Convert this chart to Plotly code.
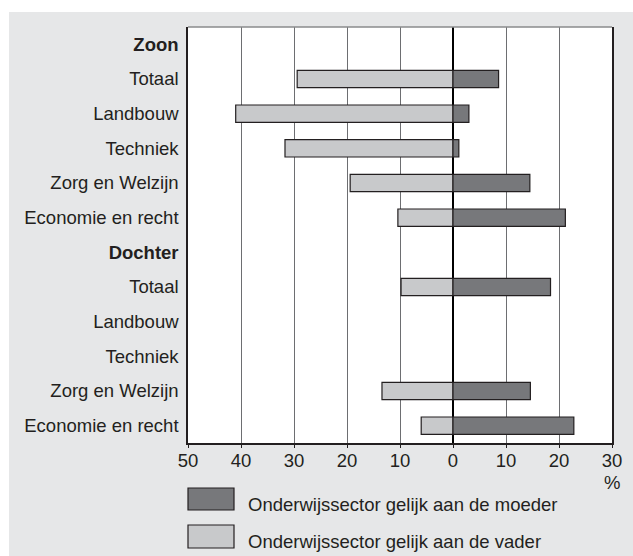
import plotly.graph_objects as go

labels = ["<b>Zoon</b>", "Totaal", "Landbouw", "Techniek", "Zorg en Welzijn", "Economie en recht",
          "<b>Dochter</b>", "Totaal", "Landbouw", "Techniek", "Zorg en Welzijn", "Economie en recht"]
moeder = [None, 8.6, 3.0, 1.1, 14.5, 21.2, None, 18.4, None, None, 14.6, 22.8]
vader = [None, 29.4, 41.0, 31.7, 19.4, 10.4, None, 9.8, None, None, 13.4, 6.0]
tick_vals = [-50, -40, -30, -20, -10, 0, 10, 20, 30]
tick_text = ["50", "40", "30", "20", "10", "0", "10", "20", "30"]
series_names = ["Onderwijssector gelijk aan de moeder", "Onderwijssector gelijk aan de vader"]

DARK = "#77787b"
LIGHT = "#c8c9cb"
EDGE = "#231f20"
PANEL = "#e6e7e8"
TEXT = "#231f20"
FONT = "Liberation Sans, Arial, Helvetica, sans-serif"
FS = 18.5

ypos = list(range(len(labels)))

fig = go.Figure()
fig.add_trace(go.Bar(
    y=ypos, x=[(-v if v is not None else None) for v in vader], orientation="h",
    width=0.5, marker=dict(color=LIGHT, line=dict(color=EDGE, width=1.2)),
    name=series_names[1], showlegend=False, hoverinfo="skip"))
fig.add_trace(go.Bar(
    y=ypos, x=moeder, orientation="h",
    width=0.5, marker=dict(color=DARK, line=dict(color=EDGE, width=1.2)),
    name=series_names[0], showlegend=False, hoverinfo="skip"))

fig.update_layout(
    width=633, height=556,
    margin=dict(l=188, r=21, t=27, b=113),
    paper_bgcolor=PANEL, plot_bgcolor="white",
    barmode="overlay",
    font=dict(family=FONT, size=FS, color=TEXT),
    xaxis=dict(range=[-50, 30], tickvals=tick_vals, ticktext=tick_text,
               showgrid=True, gridcolor="#6d6e71", gridwidth=1.3,
               zeroline=True, zerolinecolor="#000000", zerolinewidth=1.6,
               showline=True, linecolor=EDGE, linewidth=1.5,
               ticks="outside", ticklen=3, tickcolor=EDGE, tickwidth=1.2,
               ticklabelstandoff=-3,
               tickfont=dict(size=FS, color=TEXT), fixedrange=True),
    yaxis=dict(range=[len(labels) - 0.5, -0.5], tickvals=ypos, ticktext=labels,
               showgrid=False, zeroline=False,
               showline=True, mirror=True, linecolor=EDGE, linewidth=1.5,
               ticks="", ticklabelstandoff=4,
               tickfont=dict(size=FS, color=TEXT), fixedrange=True),
)

PX_W, PX_H = 424.0, 416.0
def px2x(px):
    return (px - 188) / PX_W
def px2y(py):
    return (443 - py) / PX_H

shapes = []
shapes.append(dict(type="rect", xref="paper", yref="paper", x0=px2x(-5), x1=px2x(640),
                   y0=px2y(12), y1=px2y(-5), fillcolor="white", line=dict(width=0), layer="below"))
shapes.append(dict(type="rect", xref="paper", yref="paper", x0=px2x(-5), x1=px2x(9),
                   y0=px2y(560), y1=px2y(-5), fillcolor="white", line=dict(width=0), layer="below"))
shapes.append(dict(type="line", xref="paper", yref="paper", x0=0, x1=1, y0=1, y1=1,
                   line=dict(color="#8a8b8d", width=1.5)))
shapes.append(dict(type="rect", xref="paper", yref="paper", x0=px2x(188), x1=px2x(234),
                   y0=px2y(510), y1=px2y(488), fillcolor=DARK, line=dict(color=EDGE, width=1.2)))
shapes.append(dict(type="rect", xref="paper", yref="paper", x0=px2x(188), x1=px2x(234),
                   y0=px2y(548), y1=px2y(525), fillcolor=LIGHT, line=dict(color=EDGE, width=1.2)))
fig.update_layout(shapes=shapes)

annotations = [
    dict(text="%", xref="paper", yref="paper", x=px2x(612), y=px2y(482), xanchor="center",
         yanchor="middle", showarrow=False, font=dict(size=FS, color=TEXT)),
    dict(text=series_names[0], xref="paper", yref="paper", x=px2x(246), y=px2y(504),
         xanchor="left", yanchor="middle", showarrow=False, font=dict(size=FS, color=TEXT)),
    dict(text=series_names[1], xref="paper", yref="paper", x=px2x(246), y=px2y(541),
         xanchor="left", yanchor="middle", showarrow=False, font=dict(size=FS, color=TEXT)),
]
fig.update_layout(annotations=annotations)

fig.write_html("out.html", config={"displayModeBar": False},
               post_script="document.body.style.margin='0';document.body.style.overflow='hidden';")
